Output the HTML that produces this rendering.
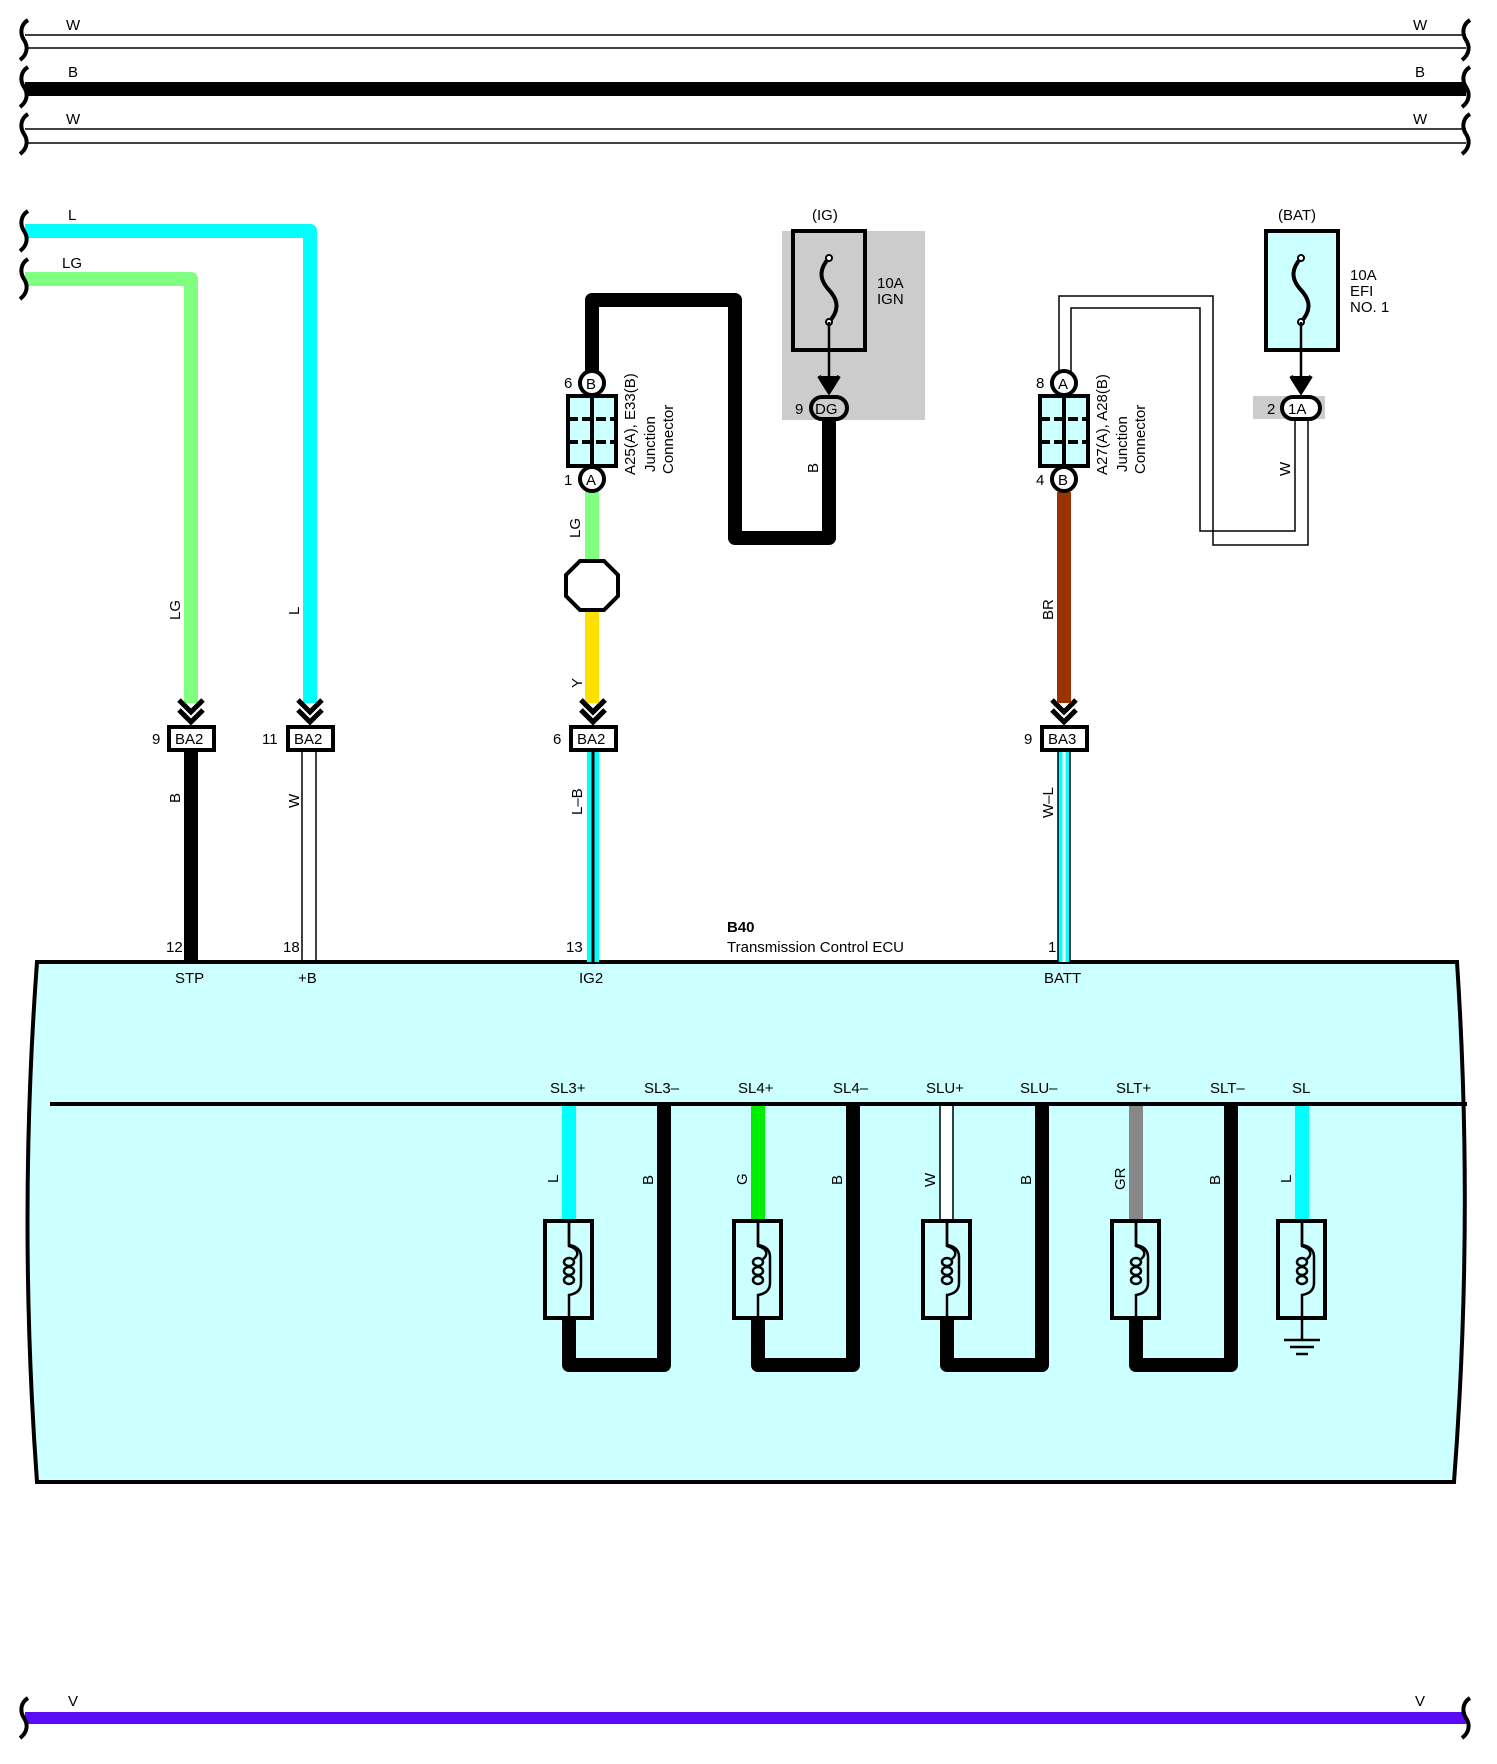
<!DOCTYPE html>
<html><head><meta charset="utf-8"><style>
html,body{margin:0;padding:0;background:#fff;}
svg{display:block;}
text{font-family:"Liberation Sans",sans-serif;font-size:15px;fill:#000;}
</style></head><body>
<svg width="1497" height="1764" viewBox="0 0 1497 1764" xmlns="http://www.w3.org/2000/svg">
<defs>
<g id="brace"><path d="M8,0 C0,5 0,14 4,20 C8,26 8,34 0,40" fill="none" stroke="#000" stroke-width="4"/></g>
<g id="chev"><path d="M-12,-30 L0,-18 L12,-30 M-12,-20 L0,-8 L12,-20" fill="none" stroke="#000" stroke-width="5"/></g>
<g id="coil">
<rect x="-24" y="0" width="47" height="97" fill="#ccffff" stroke="#000" stroke-width="4"/>
<path d="M0,0 V25 C10,28 10,34 5,38 M0,0" fill="none" stroke="#000" stroke-width="2.5"/>
<path d="M0,0 V24 Q12,26 12,36 V62 Q12,72 0,74 V97" fill="none" stroke="#000" stroke-width="2.5"/>
<ellipse cx="0" cy="41" rx="5" ry="4" fill="none" stroke="#000" stroke-width="2.5"/>
<ellipse cx="0" cy="50" rx="5" ry="4" fill="none" stroke="#000" stroke-width="2.5"/>
<ellipse cx="0" cy="59" rx="5" ry="4" fill="none" stroke="#000" stroke-width="2.5"/>
</g>
<g id="jc">
<rect x="-24" y="0" width="48" height="70" fill="#ccffff" stroke="#000" stroke-width="4"/>
<line x1="0" y1="0" x2="0" y2="70" stroke="#000" stroke-width="4"/>
<line x1="-24" y1="23" x2="24" y2="23" stroke="#000" stroke-width="4" stroke-dasharray="10,4"/>
<line x1="-24" y1="46" x2="24" y2="46" stroke="#000" stroke-width="4" stroke-dasharray="10,4"/>
</g>
</defs>

<!-- top bus -->
<line x1="25" y1="35" x2="1466" y2="35" stroke="#000" stroke-width="1.5"/>
<line x1="25" y1="48" x2="1466" y2="48" stroke="#000" stroke-width="1.5"/>
<line x1="25" y1="89" x2="1466" y2="89" stroke="#000" stroke-width="14"/>
<line x1="25" y1="129" x2="1466" y2="129" stroke="#000" stroke-width="1.5"/>
<line x1="25" y1="143" x2="1466" y2="143" stroke="#000" stroke-width="1.5"/>
<use href="#brace" x="20" y="20"/><use href="#brace" x="20" y="67"/><use href="#brace" x="20" y="114"/>
<use href="#brace" x="1462" y="20"/><use href="#brace" x="1462" y="67"/><use href="#brace" x="1462" y="114"/>
<text x="66" y="30">W</text><text x="1413" y="30">W</text>
<text x="68" y="77">B</text><text x="1415" y="77">B</text>
<text x="66" y="124">W</text><text x="1413" y="124">W</text>

<!-- bottom V -->
<line x1="25" y1="1718" x2="1466" y2="1718" stroke="#5a0cf5" stroke-width="12"/>
<use href="#brace" x="20" y="1698"/><use href="#brace" x="1462" y="1698"/>
<text x="68" y="1706">V</text><text x="1415" y="1706">V</text>

<!-- L and LG -->
<path d="M25,231 H310 V703" fill="none" stroke="#00ffff" stroke-width="14" stroke-linejoin="round"/>
<path d="M25,279 H191 V703" fill="none" stroke="#80ff80" stroke-width="14" stroke-linejoin="round"/>
<use href="#brace" x="20" y="211"/><use href="#brace" x="20" y="259"/>
<text x="68" y="220">L</text><text x="62" y="268">LG</text>
<text transform="translate(180,620) rotate(-90)">LG</text>
<text transform="translate(299,615) rotate(-90)">L</text>

<!-- ECU -->
<path d="M37,962 H1457 Q1474,1220 1454,1482 H37 Q18,1220 37,962 Z" fill="#ccffff" stroke="#000" stroke-width="4"/>
<line x1="50" y1="1104" x2="1467" y2="1104" stroke="#000" stroke-width="4"/>

<!-- wires under connectors -->
<line x1="191" y1="750" x2="191" y2="962" stroke="#000" stroke-width="14"/>
<line x1="302" y1="750" x2="302" y2="962" stroke="#000" stroke-width="1.5"/>
<line x1="316" y1="750" x2="316" y2="962" stroke="#000" stroke-width="1.5"/>
<line x1="593" y1="750" x2="593" y2="962" stroke="#00ffff" stroke-width="12"/>
<line x1="593" y1="750" x2="593" y2="962" stroke="#000" stroke-width="3"/>
<line x1="1064" y1="750" x2="1064" y2="962" stroke="#00ffff" stroke-width="12"/>
<line x1="1058" y1="750" x2="1058" y2="962" stroke="#000" stroke-width="1.5"/>
<line x1="1070" y1="750" x2="1070" y2="962" stroke="#000" stroke-width="1.5"/>
<line x1="1064" y1="750" x2="1064" y2="962" stroke="#fff" stroke-width="3"/>
<text transform="translate(180,803) rotate(-90)">B</text>
<text transform="translate(299,808) rotate(-90)">W</text>
<text transform="translate(582,815) rotate(-90)">L–B</text>
<text transform="translate(1053,818) rotate(-90)">W–L</text>

<!-- BA connectors -->
<g>
<use href="#chev" x="191" y="730"/><rect x="169" y="727" width="45" height="23" fill="#fff" stroke="#000" stroke-width="4"/><text x="175" y="744">BA2</text><text x="152" y="744">9</text>
<use href="#chev" x="310" y="730"/><rect x="288" y="727" width="45" height="23" fill="#fff" stroke="#000" stroke-width="4"/><text x="294" y="744">BA2</text><text x="262" y="744">11</text>
<use href="#chev" x="593" y="730"/><rect x="571" y="727" width="45" height="23" fill="#fff" stroke="#000" stroke-width="4"/><text x="577" y="744">BA2</text><text x="553" y="744">6</text>
<use href="#chev" x="1064" y="730"/><rect x="1042" y="727" width="45" height="23" fill="#fff" stroke="#000" stroke-width="4"/><text x="1048" y="744">BA3</text><text x="1024" y="744">9</text>
</g>

<!-- pin labels -->
<text x="166" y="952">12</text><text x="283" y="952">18</text><text x="566" y="952">13</text><text x="1048" y="952">1</text>
<text x="175" y="983">STP</text><text x="298" y="983">+B</text><text x="579" y="983">IG2</text><text x="1044" y="983">BATT</text>
<text x="727" y="932" font-weight="bold">B40</text>
<text x="727" y="952">Transmission Control ECU</text>

<!-- IG section -->
<rect x="782" y="231" width="143" height="189" fill="#cccccc"/>
<rect x="793" y="231" width="72" height="119" fill="none" stroke="#000" stroke-width="4"/>
<path d="M829,258 C820,268 818,278 829,290 C840,302 838,312 829,322" fill="none" stroke="#000" stroke-width="4"/>
<circle cx="829" cy="258" r="3" fill="#fff" stroke="#000" stroke-width="2"/>
<circle cx="829" cy="322" r="3" fill="#fff" stroke="#000" stroke-width="2"/>
<line x1="829" y1="322" x2="829" y2="390" stroke="#000" stroke-width="2.5"/>
<path d="M819,376 L829,392 L839,376" fill="#000" stroke="#000" stroke-width="4"/>
<text x="812" y="220">(IG)</text>
<text x="877" y="288">10A</text><text x="877" y="304">IGN</text>
<path d="M592,383 V300 H735 V538 H829 V407" fill="none" stroke="#000" stroke-width="14" stroke-linejoin="round"/>
<rect x="811" y="397" width="36" height="22" rx="11" fill="#ccc" stroke="#000" stroke-width="4"/>
<text x="815" y="414">DG</text><text x="795" y="414">9</text>
<text transform="translate(818,473) rotate(-90)">B</text>

<!-- A25 junction -->
<line x1="592" y1="479" x2="592" y2="566" stroke="#80ff80" stroke-width="14"/>
<line x1="592" y1="600" x2="592" y2="703" stroke="#ffe000" stroke-width="14"/>
<use href="#chev" x="593" y="730"/>
<polygon points="580,561 604,561 618,575 618,596 604,610 580,610 566,596 566,575" fill="#fff" stroke="#000" stroke-width="4"/>
<use href="#jc" x="592" y="396"/>
<circle cx="592" cy="383" r="12" fill="#fff" stroke="#000" stroke-width="4"/>
<circle cx="592" cy="479" r="12" fill="#fff" stroke="#000" stroke-width="4"/>
<text x="586" y="389" font-size="13">B</text><text x="586" y="485" font-size="13">A</text>
<text x="564" y="388">6</text><text x="564" y="485">1</text>
<text transform="translate(580,538) rotate(-90)">LG</text>
<text transform="translate(582,688) rotate(-90)">Y</text>
<text transform="translate(635,475) rotate(-90)" font-size="16">A25(A), E33(B)</text>
<text transform="translate(655,472) rotate(-90)">Junction</text>
<text transform="translate(673,474) rotate(-90)">Connector</text>

<!-- BAT section -->
<rect x="1266" y="231" width="72" height="119" fill="#ccffff" stroke="#000" stroke-width="4"/>
<path d="M1301,258 C1292,268 1290,278 1301,290 C1312,302 1310,312 1301,322" fill="none" stroke="#000" stroke-width="4"/>
<circle cx="1301" cy="258" r="3" fill="#fff" stroke="#000" stroke-width="2"/>
<circle cx="1301" cy="322" r="3" fill="#fff" stroke="#000" stroke-width="2"/>
<line x1="1301" y1="322" x2="1301" y2="390" stroke="#000" stroke-width="2.5"/>
<path d="M1291,376 L1301,392 L1311,376" fill="#000" stroke="#000" stroke-width="4"/>
<text x="1278" y="220">(BAT)</text>
<text x="1350" y="280">10A</text><text x="1350" y="296">EFI</text><text x="1350" y="312">NO. 1</text>
<rect x="1253" y="396" width="72" height="23" fill="#cccccc"/>
<path d="M1059,383 V296 H1213 V545 H1308 V419" fill="none" stroke="#000" stroke-width="1.5"/>
<path d="M1071,383 V308 H1200 V531 H1295 V419" fill="none" stroke="#000" stroke-width="1.5"/>
<rect x="1282" y="397" width="38" height="22" rx="11" fill="#fff" stroke="#000" stroke-width="4"/>
<text x="1288" y="414">1A</text><text x="1267" y="414">2</text>
<text transform="translate(1290,476) rotate(-90)">W</text>
<line x1="1064" y1="492" x2="1064" y2="703" stroke="#993300" stroke-width="14"/>
<use href="#jc" x="1064" y="396"/>
<circle cx="1064" cy="383" r="12" fill="#fff" stroke="#000" stroke-width="4"/>
<circle cx="1064" cy="479" r="12" fill="#fff" stroke="#000" stroke-width="4"/>
<text x="1058" y="389" font-size="13">A</text><text x="1058" y="485" font-size="13">B</text>
<text x="1036" y="388">8</text><text x="1036" y="485">4</text>
<text transform="translate(1053,620) rotate(-90)">BR</text>
<text transform="translate(1107,475) rotate(-90)" font-size="16">A27(A), A28(B)</text>
<text transform="translate(1127,472) rotate(-90)">Junction</text>
<text transform="translate(1145,474) rotate(-90)">Connector</text>

<!-- solenoids -->
<g>
<path d="M569,1318 V1365 H664 V1104" fill="none" stroke="#000" stroke-width="14" stroke-linejoin="round"/>
<line x1="569" y1="1106" x2="569" y2="1220" stroke="#00ffff" stroke-width="14"/>
<use href="#coil" x="569" y="1221"/>
<path d="M758,1318 V1365 H853 V1104" fill="none" stroke="#000" stroke-width="14" stroke-linejoin="round"/>
<line x1="758" y1="1106" x2="758" y2="1220" stroke="#00ee00" stroke-width="14"/>
<use href="#coil" x="758" y="1221"/>
<path d="M947,1318 V1365 H1042 V1104" fill="none" stroke="#000" stroke-width="14" stroke-linejoin="round"/>
<line x1="940" y1="1106" x2="940" y2="1220" stroke="#000" stroke-width="1.5"/>
<line x1="953" y1="1106" x2="953" y2="1220" stroke="#000" stroke-width="1.5"/>
<rect x="941" y="1106" width="11" height="114" fill="#fff"/>
<use href="#coil" x="947" y="1221"/>
<path d="M1136,1318 V1365 H1231 V1104" fill="none" stroke="#000" stroke-width="14" stroke-linejoin="round"/>
<line x1="1136" y1="1106" x2="1136" y2="1220" stroke="#888888" stroke-width="14"/>
<use href="#coil" x="1136" y="1221"/>
<line x1="1302" y1="1106" x2="1302" y2="1220" stroke="#00ffff" stroke-width="14"/>
<use href="#coil" x="1302" y="1221"/>
<line x1="1302" y1="1318" x2="1302" y2="1340" stroke="#000" stroke-width="2.5"/>
<line x1="1284" y1="1340" x2="1320" y2="1340" stroke="#000" stroke-width="2.5"/>
<line x1="1290" y1="1347" x2="1314" y2="1347" stroke="#000" stroke-width="2.5"/>
<line x1="1296" y1="1354" x2="1308" y2="1354" stroke="#000" stroke-width="2.5"/>
</g>
<g>
<text x="550" y="1093">SL3+</text><text x="644" y="1093">SL3–</text>
<text x="738" y="1093">SL4+</text><text x="833" y="1093">SL4–</text>
<text x="926" y="1093">SLU+</text><text x="1020" y="1093">SLU–</text>
<text x="1116" y="1093">SLT+</text><text x="1210" y="1093">SLT–</text>
<text x="1292" y="1093">SL</text>
<text transform="translate(558,1183) rotate(-90)">L</text>
<text transform="translate(653,1185) rotate(-90)">B</text>
<text transform="translate(747,1185) rotate(-90)">G</text>
<text transform="translate(842,1185) rotate(-90)">B</text>
<text transform="translate(935,1187) rotate(-90)">W</text>
<text transform="translate(1031,1185) rotate(-90)">B</text>
<text transform="translate(1125,1190) rotate(-90)">GR</text>
<text transform="translate(1220,1185) rotate(-90)">B</text>
<text transform="translate(1291,1183) rotate(-90)">L</text>
</g>
</svg>
</body></html>
